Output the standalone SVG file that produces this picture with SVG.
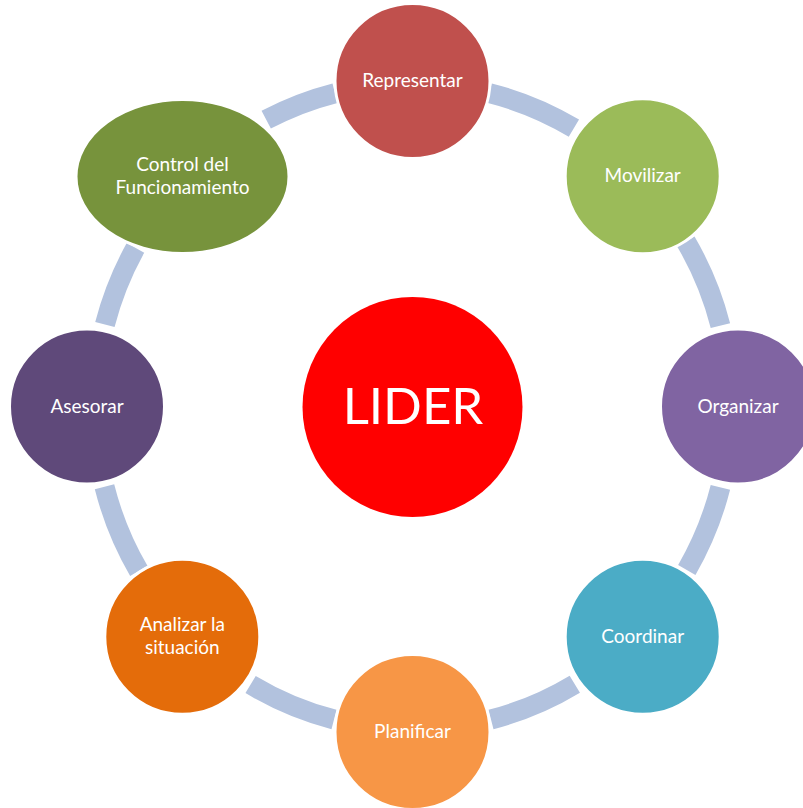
<svg xmlns="http://www.w3.org/2000/svg" width="803" height="808" viewBox="0 0 803 808">
<style>
.arc{fill:none;stroke:#B2C2DE;stroke-width:20;stroke-linecap:butt}
.node{stroke:#FFFFFF;stroke-width:3}
.lbl{font-family:Lato,"Open Sans","Liberation Sans",sans-serif;font-size:19px;fill:#FFFFFF;text-anchor:middle}
.big{font-family:Lato,"Open Sans","Liberation Sans",sans-serif;font-size:51px;fill:#FFFFFF;text-anchor:middle}
</style>
<rect width="803" height="808" fill="#FFFFFF"/>
<g id="connectors">
<path class="arc" d="M489.4,93.1 A318,323 0 0 1 573.9,128.2"/>
<path class="arc" d="M685.9,241.6 A318,323 0 0 1 720.4,325.6"/>
<path class="arc" d="M720.4,487.4 A318,323 0 0 1 686.8,569.9"/>
<path class="arc" d="M574.8,684.2 A318,323 0 0 1 491.0,719.5"/>
<path class="arc" d="M334.0,719.5 A318,323 0 0 1 250.6,684.5"/>
<path class="arc" d="M138.8,570.9 A318,323 0 0 1 104.5,486.8"/>
<path class="arc" d="M104.9,324.5 A318,323 0 0 1 135.5,247.9"/>
<path class="arc" d="M266.2,119.7 A318,323 0 0 1 335.0,93.2"/>
</g>
<g id="lider">
<circle cx="412.5" cy="407" r="110" fill="#FF0000"/>
<text class="big" x="413" y="424">LIDER</text>
</g>
<g id="representar">
<circle class="node" cx="412.5" cy="81" r="77.5" fill="#C0504D"/>
<text class="lbl" x="412.5" y="87">Representar</text>
</g>
<g id="movilizar">
<circle class="node" cx="642.7" cy="176.3" r="77.5" fill="#9BBB59"/>
<text class="lbl" x="642.7" y="182">Movilizar</text>
</g>
<g id="organizar">
<circle class="node" cx="738" cy="406.5" r="77.5" fill="#8064A2"/>
<text class="lbl" x="738" y="413">Organizar</text>
</g>
<g id="coordinar">
<circle class="node" cx="642.7" cy="636.7" r="77.5" fill="#4BACC6"/>
<text class="lbl" x="642.7" y="643">Coordinar</text>
</g>
<g id="planificar">
<circle class="node" cx="412.5" cy="732" r="77.5" fill="#F79646"/>
<text class="lbl" x="412.5" y="738">Planificar</text>
</g>
<g id="analizar">
<circle class="node" cx="182.3" cy="636.7" r="77.5" fill="#E46C0A"/>
<text class="lbl" x="182.3" y="631">Analizar la</text>
<text class="lbl" x="182.3" y="654">situación</text>
</g>
<g id="asesorar">
<circle class="node" cx="87" cy="406.5" r="77.5" fill="#5F497A"/>
<text class="lbl" x="87" y="413">Asesorar</text>
</g>
<g id="control">
<ellipse class="node" cx="182.5" cy="176.5" rx="106.5" ry="77" fill="#77933C"/>
<text class="lbl" x="182.5" y="171">Control del</text>
<text class="lbl" x="182.5" y="194">Funcionamiento</text>
</g>
</svg>
